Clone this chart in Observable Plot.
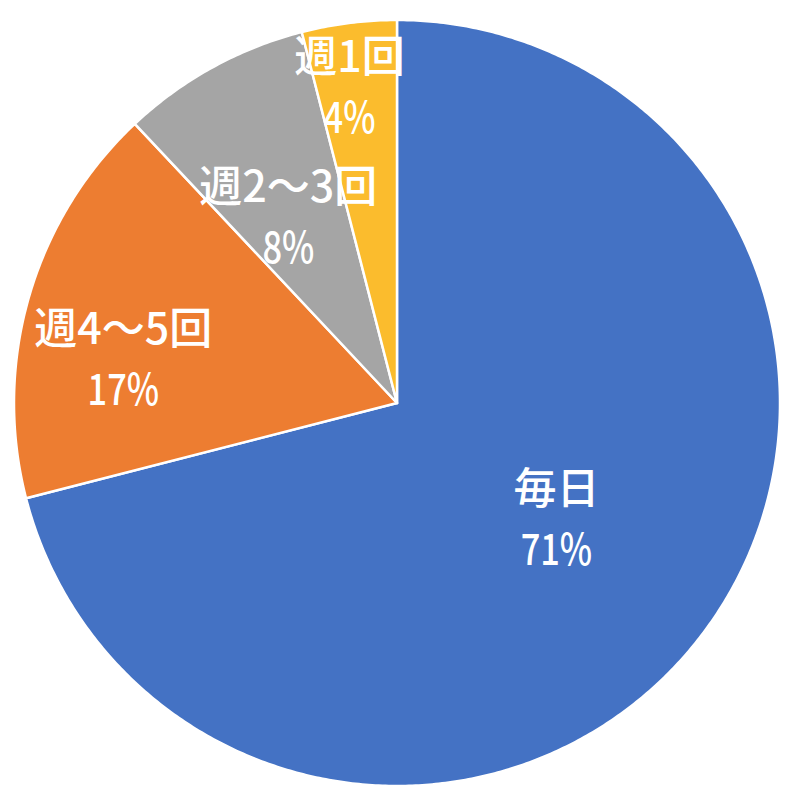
<!DOCTYPE html>
<html>
<head>
<meta charset="utf-8">
<script src="https://cdn.jsdelivr.net/npm/d3@7"></script>
<script src="https://cdn.jsdelivr.net/npm/@observablehq/plot@0.6"></script>
<style>
  html, body { margin: 0; padding: 0; background: #ffffff; }
  #chart svg { display: block; }
</style>
</head>
<body>
<div id="chart"></div>
<script>
// ---- data ----
const categories = ["毎日", "週4～5回", "週2～3回", "週1回"];
const percents = [71, 17, 8, 4];
const colors = ["#4472C4", "#ED7D31", "#A5A5A5", "#FBBC2D"];

// ---- layout (label placement in the pie, fraction of radius / angle tweak in degrees) ----
const labelRadius = [0.517, 0.723, 0.559, 0.83];
const labelShift = [-1.4, -7.4, -1.7, -1.4];

const W = 800, H = 804;
const cx = 396.5, cy = 402.5, R = 383;
const FONT = "'Noto Sans CJK JP', 'Noto Sans', sans-serif";

const rows = categories.map((name, i) => ({name, value: percents[i], i}));
const arcs = d3.pie().sort(null).value(d => d.value).startAngle(0).endAngle(2 * Math.PI)(rows);

// polygon outline of each slice (center -> arc -> center), in unit coordinates (y up)
const pts = [];
for (const a of arcs) {
  const name = a.data.name;
  pts.push({name, x: 0, y: 0});
  const n = Math.max(2, Math.ceil((a.endAngle - a.startAngle) / (Math.PI / 360)));
  for (let k = 0; k <= n; k++) {
    const t = a.startAngle + (a.endAngle - a.startAngle) * k / n;
    pts.push({name, x: Math.sin(t), y: Math.cos(t)});
  }
  pts.push({name, x: 0, y: 0});
}

const labels = arcs.map(a => {
  const i = a.data.i;
  const t = (a.startAngle + a.endAngle) / 2 + labelShift[i] * Math.PI / 180;
  return {
    name: a.data.name,
    pct: `${a.data.value}%`,
    x: labelRadius[i] * Math.sin(t),
    y: labelRadius[i] * Math.cos(t)
  };
});

const chart = Plot.plot({
  width: W,
  height: H,
  margin: 0,
  x: {domain: [-1, 1], range: [cx - R, cx + R], axis: null},
  y: {domain: [-1, 1], range: [cy + R, cy - R], axis: null},
  color: {domain: categories, range: colors},
  style: {background: "#ffffff"},
  marks: [
    Plot.line(pts, {
      x: "x", y: "y", z: "name", fill: "name",
      stroke: "#ffffff", strokeWidth: 2.5, strokeLinejoin: "round", curve: "linear"
    }),
    Plot.text(labels, {
      x: "x", y: "y", text: "name", dy: -30,
      fill: "#ffffff", fontSize: 43, fontWeight: 500,
      textAnchor: "middle", fontFamily: FONT
    }),
    Plot.text(labels, {
      x: "x", y: "y", text: "pct", dy: 31,
      fill: "#ffffff", fontSize: 43, fontWeight: 500,
      textAnchor: "middle", fontFamily: FONT
    })
  ]
});

document.getElementById("chart").appendChild(chart);

// narrow the percentage figures horizontally (the original uses a condensed face)
d3.select(chart).selectAll("text")
  .filter(function() { return /%$/.test(this.textContent.trim()); })
  .each(function() {
    const b = this.getBBox();
    const bx = b.x + b.width / 2;
    const tr = this.getAttribute("transform") || "";
    this.setAttribute("transform", `${tr} translate(${bx},0) scale(0.8,1) translate(${-bx},0)`);
  });
</script>
</body>
</html>
